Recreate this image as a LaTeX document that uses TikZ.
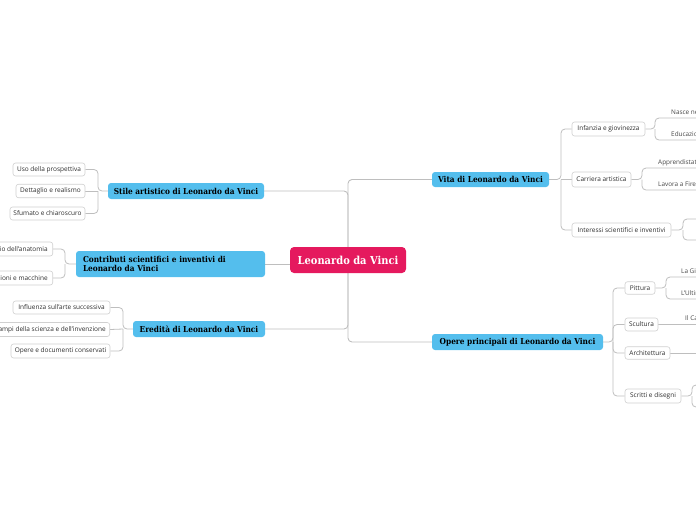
\documentclass[tikz,border=0pt]{standalone}
\usepackage{fontspec}
\setmainfont{Open Sans}
\newfontfamily\slab[FakeStretch=0.9]{DejaVu Serif}
\usetikzlibrary{backgrounds}
\definecolor{topicblue}{RGB}{84,190,237}
\definecolor{rootred}{RGB}{229,25,94}
\definecolor{leafborder}{RGB}{208,208,208}
\definecolor{leaftext}{RGB}{45,45,45}
\definecolor{gctext}{RGB}{70,70,70}
\definecolor{conncol}{RGB}{190,190,190}
\tikzset{
  leaf/.style={draw=leafborder, fill=white, rounded corners=2.5pt, line width=0.6pt, inner sep=0pt,
    font=\fontsize{6.5}{7.5}\selectfont, text=leaftext},
  topic/.style={fill=topicblue, rounded corners=3pt, inner sep=0pt,
    font=\slab\bfseries\fontsize{8.2}{9}\selectfont, text=black},
  rootbox/.style={fill=rootred, rounded corners=4pt, inner sep=0pt,
    font=\slab\bfseries\fontsize{11}{13}\selectfont, text=white},
  gc/.style={anchor=south west, inner xsep=0pt, inner ysep=2.2pt, text height=4.6pt, text depth=1.4pt,
    font=\fontsize{6.4}{7.5}\selectfont, text=gctext},
  conn/.style={draw=conncol, line width=0.8pt, rounded corners=4pt},
}
\begin{document}
\begin{tikzpicture}[x=1pt,y=-1pt]
\useasboundingbox (0,0) rectangle (696,520);
\clip (0,0) rectangle (696,520);

% root
\node[rootbox, minimum width=116pt, minimum height=26pt] (root) at (348,260) {Leonardo da Vinci};

% main topics
\node[topic, minimum width=156pt, minimum height=16pt] (stile) at (186,191) {Stile artistico di Leonardo da Vinci};
\node[topic, minimum width=189pt, minimum height=26pt, text width=175pt, align=left] (contrib) at (170.5,264) {Contributi scientifici e inventivi di\\Leonardo da Vinci};
\node[topic, minimum width=132pt, minimum height=16pt] (ered) at (199,329) {Eredità di Leonardo da Vinci};
\node[topic, minimum width=117pt, minimum height=15pt] (vita) at (490.5,179.5) {Vita di Leonardo da Vinci};
\node[topic, minimum width=171pt, minimum height=16pt] (opere) at (517.5,342) {Opere principali di Leonardo da Vinci};

% left leaves
\node[leaf, minimum width=72pt, minimum height=13pt] (uso) at (49,169.5) {Uso della prospettiva};
\node[leaf, minimum width=69pt, minimum height=13.5pt] (det) at (50.5,191) {Dettaglio e realismo};
\node[leaf, minimum width=75pt, minimum height=13pt] (sfu) at (47.5,213.5) {Sfumato e chiaroscuro};
\node[leaf, anchor=east, inner xsep=5pt, minimum height=14pt] (stud) at (53,249) {Studio dell'anatomia};
\node[leaf, anchor=east, inner xsep=5pt, minimum height=14pt] (inv) at (53,278) {Invenzioni e macchine};
\node[leaf, minimum width=97pt, minimum height=13pt] (infl) at (61.5,307.5) {Influenza sull'arte successiva};
\node[leaf, anchor=east, inner xsep=4pt, minimum height=14pt] (campi) at (110,329.5) {Campi della scienza e dell'invenzione};
\node[leaf, minimum width=99pt, minimum height=14pt] (opdoc) at (60.5,351) {Opere e documenti conservati};

% right leaves
\node[leaf, minimum width=73pt, minimum height=14pt] (infanzia) at (608.5,129) {Infanzia e giovinezza};
\node[leaf, minimum width=59pt, minimum height=15pt] (carriera) at (601.5,179.5) {Carriera artistica};
\node[leaf, minimum width=99pt, minimum height=14pt] (interessi) at (621.5,230) {Interessi scientifici e inventivi};
\node[leaf, minimum width=30pt, minimum height=12.5pt] (pittura) at (640,288) {Pittura};
\node[leaf, minimum width=33pt, minimum height=13pt] (scultura) at (641.5,324.5) {Scultura};
\node[leaf, minimum width=45pt, minimum height=12.5pt] (archi) at (647.5,353) {Architettura};
\node[leaf, minimum width=56pt, minimum height=14pt] (scritti) at (653,396) {Scritti e disegni};

% grandchildren
\node[gc] (nasce) at (671,118) {Nasce nel 1452 a Vinci};
\node[gc] (educ) at (671,140) {Educazione e formazione};
\node[gc] (appr) at (658,168) {Apprendistato presso Verrocchio};
\node[gc] (lavora) at (658,190) {Lavora a Firenze e Milano};
\node[gc] (gioc) at (681,277) {La Gioconda};
\node[gc] (cena) at (681,299) {L'Ultima Cena};
\node[gc] (cav) at (685,324.5) {Il Cavallo di Leonardo};
\coordinate (int1) at (720,219);
\coordinate (int2) at (720,240);
\coordinate (archc) at (720,353);
\coordinate (scr1) at (720,385);
\coordinate (scr2) at (720,407);

% bracket points
\coordinate (bStile) at (98,191);
\coordinate (bContrib) at (65,264);
\coordinate (bEred) at (123,329);
\coordinate (bVita) at (561,179.5);
\coordinate (bOpere) at (613,342);
\coordinate (bInf) at (655,129);
\coordinate (bCarr) at (642,179.5);
\coordinate (bInt) at (683,230);
\coordinate (bPitt) at (666,288);
\coordinate (bScr) at (692,396);

\begin{scope}[on background layer]
  % trunk
  \draw[conn, line width=0.9pt] (vita.west) -| (root.center);
  \draw[conn, line width=0.9pt] (stile.east) -| (root.center);
  \draw[conn, line width=0.9pt] (ered.east) -| (root.center);
  \draw[conn, line width=0.9pt] (opere.west) -| (root.center);
  \draw[conn, line width=0.9pt] (contrib.east) -- (contrib.east -| root.west);
  % left brackets
  \draw[conn] (uso.east) -| (bStile) -- (stile.west);
  \draw[conn] (sfu.east) -| (bStile);
  \draw[conn] (det.east) -- (bStile);
  \draw[conn] (stud.east) -| (bContrib) -- (contrib.west);
  \draw[conn] (inv.east) -| (bContrib);
  \draw[conn] (infl.east) -| (bEred) -- (ered.west);
  \draw[conn] (opdoc.east) -| (bEred);
  \draw[conn] (campi.east) -- (bEred);
  % right brackets
  \draw[conn] (vita.east) -- (bVita) |- (infanzia.west);
  \draw[conn] (bVita) |- (interessi.west);
  \draw[conn] (bVita) -- (carriera.west);
  \draw[conn] (opere.east) -- (bOpere) |- (pittura.west);
  \draw[conn] (bOpere) |- (scritti.west);
  \draw[conn] (bOpere) |- (scultura.west);
  \draw[conn] (bOpere) |- (archi.west);
  % grandchildren
  \draw[conn] (infanzia.east) -- (bInf) |- (nasce.south east);
  \draw[conn] (bInf) |- (educ.south east);
  \draw[conn] (carriera.east) -- (bCarr) |- (appr.south east);
  \draw[conn] (bCarr) |- (lavora.south east);
  \draw[conn] (interessi.east) -- (bInt) |- (int1);
  \draw[conn] (bInt) |- (int2);
  \draw[conn] (pittura.east) -- (bPitt) |- (gioc.south east);
  \draw[conn] (bPitt) |- (cena.south east);
  \draw[conn] (scultura.east) -- (cav.south east);
  \draw[conn] (archi.east) -- (archc);
  \draw[conn] (scritti.east) -- (bScr) |- (scr1);
  \draw[conn] (bScr) |- (scr2);
\end{scope}
\end{tikzpicture}
\end{document}
